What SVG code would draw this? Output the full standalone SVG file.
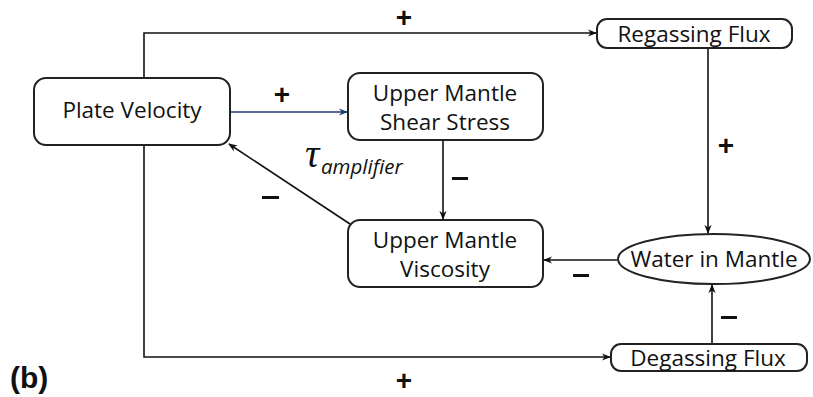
<svg xmlns="http://www.w3.org/2000/svg" width="813" height="397" viewBox="0 0 813 397">
<style>
.box{fill:#fff;stroke:#222;stroke-width:2}
.t{font-family:"Open Sans","Liberation Sans",sans-serif;font-size:22.5px;fill:#111;text-anchor:middle}
.c{fill:none;stroke:#111;stroke-width:1.6}
.s{font-family:"Liberation Sans",sans-serif;font-size:28px;font-weight:bold;fill:#111;text-anchor:middle}
</style>
<defs>
<marker id="a" viewBox="0 0 10 10" refX="9" refY="5" markerWidth="9" markerHeight="9" markerUnits="userSpaceOnUse" orient="auto">
<path d="M0,1 L10,5 L0,9 L3,5 Z" fill="#111"/>
</marker>
<marker id="ab" viewBox="0 0 10 10" refX="9" refY="5" markerWidth="9" markerHeight="9" markerUnits="userSpaceOnUse" orient="auto">
<path d="M0,1 L10,5 L0,9 L3,5 Z" fill="#1f3b73"/>
</marker>
</defs>
<g id="connectors">
<polyline class="c" points="144,78 144,33 596,33" marker-end="url(#a)"/>
<line x1="230" y1="112" x2="347" y2="112" stroke="#1f3b73" stroke-width="1.6" marker-end="url(#ab)"/>
<line class="c" x1="443" y1="140" x2="443" y2="219" marker-end="url(#a)"/>
<line class="c" x1="350" y1="224" x2="229" y2="144" marker-end="url(#a)"/>
<line class="c" x1="708" y1="48" x2="708" y2="233" marker-end="url(#a)"/>
<line class="c" x1="617" y1="260" x2="544" y2="260" marker-end="url(#a)"/>
<polyline class="c" points="144,145 144,357 610,357" marker-end="url(#a)"/>
<line class="c" x1="712" y1="344" x2="712" y2="285" marker-end="url(#a)"/>
</g>
<g id="plate-velocity">
<rect class="box" x="34" y="78" width="196" height="67" rx="12"/>
<text class="t" x="132" y="118">Plate Velocity</text>
</g>
<g id="shear-stress">
<rect class="box" x="348" y="73" width="195" height="67" rx="12"/>
<text class="t" x="445" y="101">Upper Mantle</text>
<text class="t" x="445" y="130">Shear Stress</text>
</g>
<g id="viscosity">
<rect class="box" x="348" y="220" width="195" height="67" rx="12"/>
<text class="t" x="445" y="248">Upper Mantle</text>
<text class="t" x="445" y="277">Viscosity</text>
</g>
<g id="regassing">
<rect class="box" x="597" y="19" width="195" height="29" rx="10"/>
<text class="t" x="694" y="42">Regassing Flux</text>
</g>
<g id="water">
<ellipse class="box" cx="714" cy="259" rx="96" ry="25"/>
<text class="t" x="714" y="267">Water in Mantle</text>
</g>
<g id="degassing">
<rect class="box" x="611" y="344" width="196" height="27" rx="10"/>
<text class="t" x="708" y="366">Degassing Flux</text>
</g>
<g id="labels">
<text class="s" x="404" y="27">+</text>
<text class="s" x="282" y="104">+</text>
<text class="s" x="726" y="155">+</text>
<text class="s" x="404" y="390">+</text>
<rect x="452" y="177" width="16" height="3" fill="#111"/>
<rect x="262" y="196" width="17" height="3" fill="#111"/>
<rect x="573" y="274" width="16" height="3" fill="#111"/>
<rect x="721" y="316" width="16" height="3" fill="#111"/>
<text x="305" y="167" font-family="'Liberation Serif',serif" font-style="italic" font-size="40" fill="#111">τ</text>
<text x="321" y="174" font-family="'Open Sans','Liberation Sans',sans-serif" font-style="italic" font-size="20.5" fill="#111">amplifier</text>
<text x="10" y="388" font-family="'Liberation Sans',sans-serif" font-weight="bold" font-size="30" fill="#111">(b)</text>
</g>
</svg>
